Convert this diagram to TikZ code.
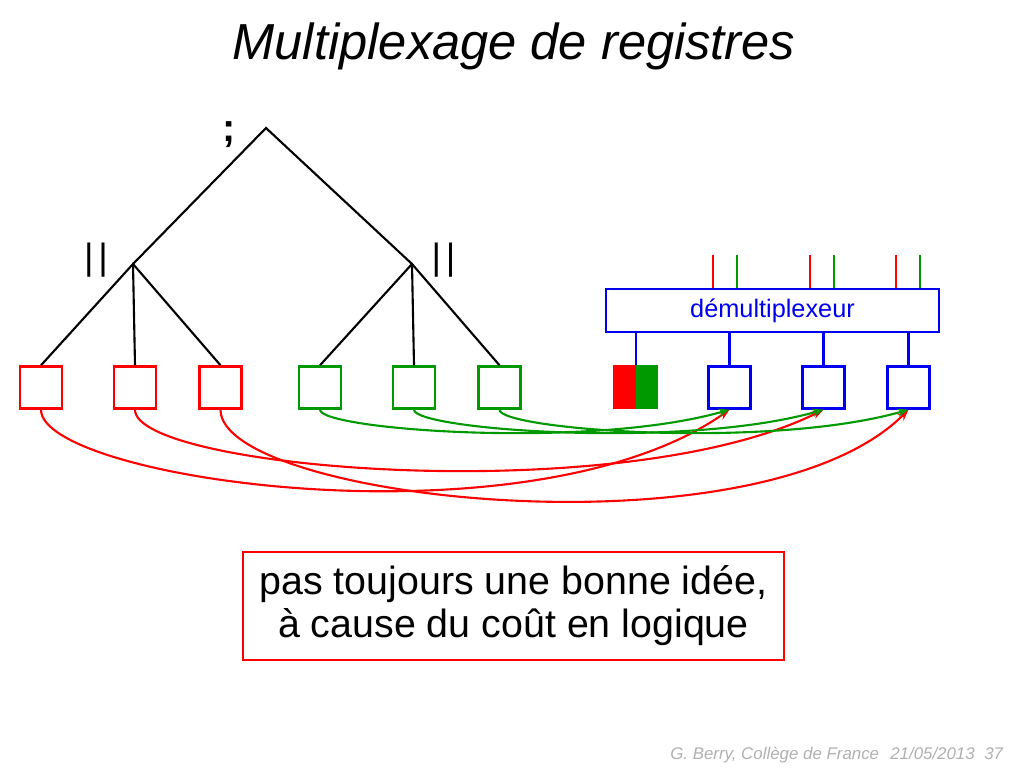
\documentclass[tikz,border=0pt]{standalone}
\usepackage{fontspec}
\setmainfont{Liberation Sans}
\usetikzlibrary{arrows.meta}
\definecolor{sred}{RGB}{255,0,0}
\definecolor{sgreen}{RGB}{0,153,0}
\definecolor{sblue}{RGB}{0,0,240}
\definecolor{sgray}{RGB}{176,176,176}

\begin{document}
\begin{tikzpicture}[x=0.025cm, y=0.025cm,
		regbox/.style={draw, line width=1.7pt, minimum width=1.05cm, minimum height=1.05cm, inner sep=0pt},
		half/.style={minimum width=0.5625cm, minimum height=1.1cm, inner sep=0pt},
		tree/.style={line width=1.5pt},
		rcurve/.style={sred, line width=1.5pt, -{Stealth[length=8pt,width=6pt]}},
		gcurve/.style={sgreen, line width=1.5pt, -{Stealth[length=8pt,width=6pt]}}]
					\useasboundingbox (0,0) rectangle (1024,768);
					
					\node[font=\itshape\fontsize{36}{40}\selectfont, anchor=base] (title) at (514,708) {Multiplexage de registres};
					
					\node[regbox, draw=sred] (r1) at (41,380.5) {};
					\node[regbox, draw=sred] (r2) at (135,380.5) {};
					\node[regbox, draw=sred] (r3) at (220.5,380.5) {};
					\node[regbox, draw=sgreen] (g1) at (320,380.5) {};
					\node[regbox, draw=sgreen] (g2) at (414,380.5) {};
					\node[regbox, draw=sgreen] (g3) at (499.5,380.5) {};
					\node[half, fill=sred] (rgr) at (624.25,380.5) {};
					\node[half, fill=sgreen] (rgg) at (646.75,380.5) {};
					\node[regbox, draw=sblue] (b1) at (729.5,380.5) {};
					\node[regbox, draw=sblue] (b2) at (823.5,380.5) {};
					\node[regbox, draw=sblue] (b3) at (908.5,380.5) {};
					
					\coordinate (root) at (266,640);
					\coordinate (lpar) at (133,504);
					\coordinate (rpar) at (412,504);
					\draw[tree] (lpar) -- (root) -- (rpar);
					\draw[tree] (r1.north) -- (lpar) -- (r3.north);
					\draw[tree] (lpar) -- (r2.north);
					\draw[tree] (g1.north) -- (rpar) -- (g3.north);
					\draw[tree] (rpar) -- (g2.north);
					
					\node[font=\bfseries\fontsize{28}{30}\selectfont] (seq) at (229.5,633) {;};
					\node[font=\fontsize{26}{28}\selectfont] (parl) at (96,507.5) {|\kern3.5pt|};
					\node[font=\fontsize{26}{28}\selectfont] (parr) at (443.5,507.5) {|\kern3.5pt|};
					
					\node[draw=sblue, line width=1.7pt, minimum width=8.325cm, minimum height=1.075cm, text=sblue, font=\fontsize{18}{20}\selectfont] (dm) at (772.5,457.5) {démultiplexeur};
					
					\coordinate (in1) at (713,513);
					\coordinate (in2) at (737,513);
					\coordinate (in3) at (810,513);
					\coordinate (in4) at (834,513);
					\coordinate (in5) at (896,513);
					\coordinate (in6) at (920,513);
					\draw[sred, line width=1.5pt] (in1) -- (in1 |- dm.north);
					\draw[sgreen, line width=1.5pt] (in2) -- (in2 |- dm.north);
					\draw[sred, line width=1.5pt] (in3) -- (in3 |- dm.north);
					\draw[sgreen, line width=1.5pt] (in4) -- (in4 |- dm.north);
					\draw[sred, line width=1.5pt] (in5) -- (in5 |- dm.north);
					\draw[sgreen, line width=1.5pt] (in6) -- (in6 |- dm.north);
					
					\draw[sblue, line width=1.5pt] (dm.south -| rgr.north east) -- (rgr.north east);
					\draw[sblue, line width=1.5pt] (dm.south -| b1.north) -- (b1.north);
					\draw[sblue, line width=1.5pt] (dm.south -| b2.north) -- (b2.north);
					\draw[sblue, line width=1.5pt] (dm.south -| b3.north) -- (b3.north);
					
					\draw[rcurve] (r1.south) .. controls +(0,-70) and +(-200,-140) .. (b1.south);
					\draw[rcurve] (r2.south) .. controls +(0,-60) and +(-200,-100) .. (b2.south);
					\draw[rcurve] (r3.south) .. controls +(0,-90) and +(-150,-150) .. (b3.south);
					\draw[gcurve] (g1.south) .. controls +(0,-20) and +(-140,-40) .. (b1.south);
					\draw[gcurve] (g2.south) .. controls +(0,-20) and +(-140,-40) .. (b2.south);
					\draw[gcurve] (g3.south) .. controls +(0,-20) and +(-140,-40) .. (b3.south);
					
					\node[draw=sred, line width=1.5pt, minimum width=13.525cm, minimum height=2.7cm, align=center, font=\fontsize{28}{30.6}\selectfont] (note) at (513.5,162) {pas toujours une bonne idée,\\ à cause du coût en logique};
					
					\node[sgray, font=\itshape\fontsize{12}{14}\selectfont, anchor=base west, inner sep=0pt] (auth) at (670,8) {G. Berry, Collège de France};
					\node[sgray, font=\itshape\fontsize{12}{14}\selectfont, anchor=base west, inner sep=0pt] (date) at (890,8) {21/05/2013};
					\node[sgray, font=\itshape\fontsize{12}{14}\selectfont, anchor=base west, inner sep=0pt] (page) at (984,8) {37};

				\end{tikzpicture}
\end{document}
